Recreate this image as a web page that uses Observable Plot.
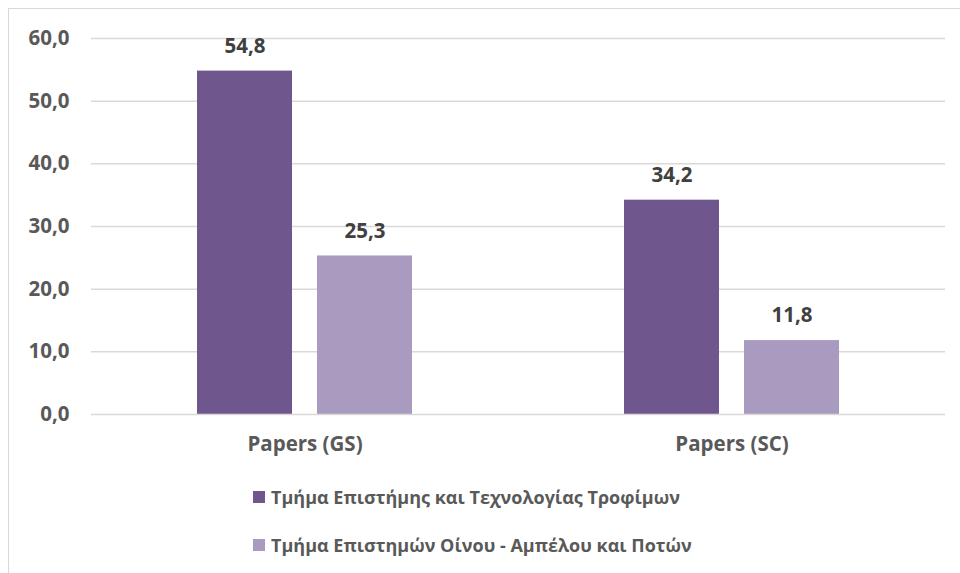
<!DOCTYPE html>
<html>
<head>
<meta charset="utf-8">
<script src="https://cdn.jsdelivr.net/npm/d3@7"></script>
<script src="https://cdn.jsdelivr.net/npm/@observablehq/plot@0.6"></script>
<style>
  html, body { margin: 0; padding: 0; background: #fff; }
  body { width: 960px; height: 573px; position: relative; overflow: hidden; font-family: "Open Sans", sans-serif; }
  #chart { position: absolute; left: 0; top: 0; }
  #frame { position: absolute; left: 8px; top: 8px; width: 1000px; height: 600px;
           border-left: 1.5px solid #d9d9d9; border-top: 1.5px solid #d9d9d9; pointer-events: none; }
  #legend { position: absolute; left: 253px; top: 485px; }
  .item { position: absolute; left: 0; display: flex; align-items: center; height: 24px; white-space: nowrap;
          font-size: 18px; font-weight: bold; color: #595959; }
  .swatch { width: 12px; height: 12px; margin-right: 6px; flex: none; }
</style>
</head>
<body>
<div id="chart"></div>
<div id="legend"></div>
<div id="frame"></div>
<script>
// Publication counts per department, Google Scholar (GS) and Scopus (SC)
const groups = ["Papers (GS)", "Papers (SC)"];
const departments = [
  "Τμήμα Επιστήμης και Τεχνολογίας Τροφίμων",
  "Τμήμα Επιστημών Οίνου - Αμπέλου και Ποτών"
];
const foodScience = [54.8, 34.2];
const wineScience = [25.3, 11.8];
const yTicks = [0, 10, 20, 30, 40, 50, 60];
const colors = ["#6f578e", "#a99bc0"];

const series = [foodScience, wineScience];
const rows = [];
groups.forEach((g, i) => {
  departments.forEach((dept, j) => rows.push({group: g, dept, value: series[j][i]}));
});

const fmt = d => d.toFixed(1).replace(".", ",");

const chart = Plot.plot({
  width: 960,
  height: 465,
  marginLeft: 90,
  marginRight: 15,
  marginTop: 38,
  marginBottom: 51,
  style: {fontFamily: "'Open Sans', sans-serif", fontSize: "20.5px", fontWeight: "bold", color: "#595959", background: "transparent"},
  fx: {domain: groups, padding: 0, label: null, axis: "bottom", tickSize: 0, tickPadding: 22},
  x: {domain: departments, axis: null, paddingInner: 0.2066, paddingOuter: 0.87},
  y: {domain: [0, 60], ticks: yTicks, tickFormat: fmt, tickSize: 0, tickPadding: 22, label: null},
  color: {domain: departments, range: colors},
  marks: [
    Plot.ruleY(yTicks.filter(d => d > 0), {stroke: "#d9d9d9", strokeWidth: 1.5}),
    Plot.barY(rows, {fx: "group", x: "dept", y: "value", fill: "dept"}),
    Plot.ruleY([0], {stroke: "#d9d9d9", strokeWidth: 1.5}),
    Plot.text(rows, {fx: "group", x: "dept", y: "value", text: d => fmt(d.value), dy: -25,
                     fill: "#404040", fontSize: 20.5, fontWeight: "bold"})
  ]
});
document.getElementById("chart").appendChild(chart);

// Legend below the plot
const legend = document.getElementById("legend");
departments.forEach((dept, i) => {
  const item = document.createElement("div");
  item.className = "item";
  item.style.top = (i * 48) + "px";
  const sw = document.createElement("span");
  sw.className = "swatch";
  sw.style.background = colors[i];
  const label = document.createElement("span");
  label.textContent = dept;
  item.appendChild(sw);
  item.appendChild(label);
  legend.appendChild(item);
});
</script>
</body>
</html>
